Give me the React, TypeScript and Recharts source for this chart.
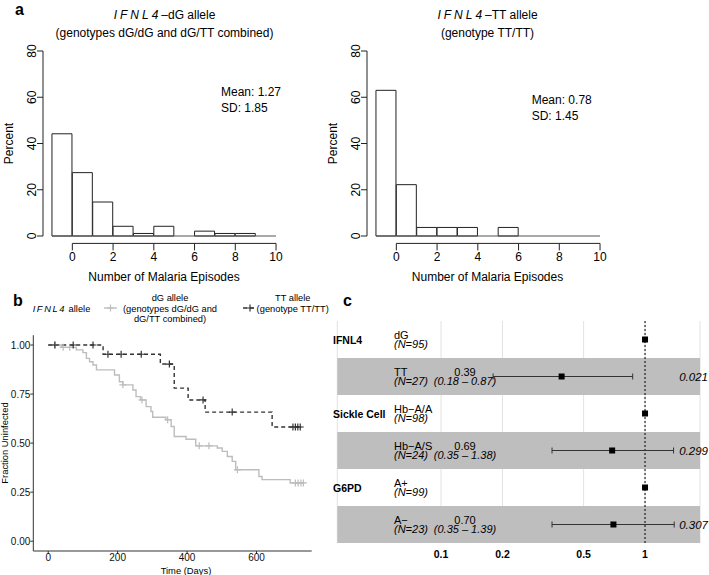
import React from "react";
import {
  Bar,
  CartesianGrid,
  ComposedChart,
  ErrorBar,
  Line,
  ReferenceArea,
  ReferenceLine,
  Scatter,
  XAxis,
  YAxis,
} from "recharts";

const FONT = '"Liberation Sans", Arial, Helvetica, sans-serif';

// ---- a: histograms of malaria episodes (percent of children per bin)
const EPISODE_BINS = [-1, 0, 1, 2, 3, 4, 5, 6, 7, 8, 9];
const DG_PERCENT = [44.2, 27.4, 14.7, 4.2, 1.1, 4.2, 0, 2.1, 1.1, 1.1, 0];
const TT_PERCENT = [63.0, 22.2, 3.7, 3.7, 3.7, 0, 3.7, 0, 0, 0, 0];
const HIST_X_TICKS = [0, 2, 4, 6, 8, 10];
const HIST_Y_TICKS = [0, 20, 40, 60, 80];
const HIST_X_DOMAIN = [-1.44, 10.44];
const HIST_Y_DOMAIN = [-3.2, 83.2];

// ---- b: Kaplan-Meier curves
const DG_TIME = [0, 38, 81, 100, 110, 119, 129, 139, 191, 205, 215, 244, 253, 266, 282, 296, 301, 339, 354, 363, 397, 425, 487, 501, 516, 530, 540, 607, 616, 697, 735];
const DG_SURV = [1, 0.988, 0.975, 0.961, 0.932, 0.915, 0.898, 0.873, 0.847, 0.813, 0.797, 0.771, 0.737, 0.72, 0.686, 0.661, 0.632, 0.619, 0.585, 0.534, 0.52, 0.486, 0.475, 0.458, 0.432, 0.407, 0.364, 0.33, 0.314, 0.297, 0.297];
const DG_CENSOR = [20, 43, 62, 215, 270, 344, 435, 463, 545, 712, 720, 728, 735];
const TT_TIME = [0, 158, 323, 363, 403, 452, 645, 730];
const TT_SURV = [1, 0.953, 0.903, 0.78, 0.72, 0.658, 0.582, 0.582];
const TT_CENSOR = [19, 72, 129, 172, 210, 268, 349, 446, 530, 705, 712, 719, 726];
const KM_X_TICKS = [0, 200, 400, 600];
const KM_Y_TICKS = [0, 0.25, 0.5, 0.75, 1];
const KM_X_DOMAIN = [-43, 759];
const KM_Y_DOMAIN = [-0.05, 1.05];

// ---- c: forest plot of hazard ratios
const FOREST_GROUP = ["IFNL4", "", "Sickle Cell", "", "G6PD", ""];
const FOREST_LEVEL = ["dG", "TT", "Hb\u2212A/A", "Hb\u2212A/S", "A+", "A\u2212"];
const FOREST_N = [95, 27, 98, 24, 99, 23];
const FOREST_HR = [1, 0.39, 1, 0.69, 1, 0.7];
const FOREST_LO = [null, 0.18, null, 0.35, null, 0.35];
const FOREST_HI = [null, 0.87, null, 1.38, null, 1.39];
const FOREST_P = ["", "0.021", "", "0.299", "", "0.307"];
const FOREST_TICKS = [0.1, 0.2, 0.5, 1];
const FOREST_X_DOMAIN = [0.031, 1.86];

const survAt = (times: number[], surv: number[], t: number) => {
  let v = surv[0];
  times.forEach((tt, i) => {
    if (tt <= t) v = surv[i];
  });
  return v;
};

function YTickRot({ x, y, payload }: any) {
  const bx = x - 1.5;
  return (
    <text x={bx} y={y} transform={`rotate(-90 ${bx} ${y})`} textAnchor="middle" fontSize={12} fill="#000" fontFamily={FONT}>
      {payload.value}
    </text>
  );
}

function Histogram({ percent, left }: { percent: number[]; left: number }) {
  const width = 300;
  const height = 290;
  const margin = { top: 43.6, right: 15, bottom: 16.6, left: 13 };
  const yAxisW = 30;
  const plotW = width - margin.left - margin.right - yAxisW;
  const pad = ((EPISODE_BINS[0] - HIST_X_DOMAIN[0]) / (HIST_X_DOMAIN[1] - HIST_X_DOMAIN[0])) * plotW;
  const data = EPISODE_BINS.map((b, i) => ({ bin: b, pct: percent[i] }));
  const lastEdge = EPISODE_BINS[EPISODE_BINS.length - 1] + 1;
  return (
    <div style={{ position: "absolute", left, top: 0 }}>
      <ComposedChart width={width} height={height} data={data} margin={margin} barCategoryGap={0} barGap={0}>
        <XAxis
          xAxisId="num"
          dataKey="bin"
          type="number"
          domain={HIST_X_DOMAIN}
          allowDataOverflow
          ticks={HIST_X_TICKS}
          interval={0}
          height={30}
          axisLine={false}
          tickSize={7}
          tickLine={{ stroke: "#222" }}
          tick={{ fontSize: 12, fill: "#000", fontFamily: FONT }}
        />
        <XAxis xAxisId="cat" dataKey="bin" type="category" hide height={0} padding={{ left: pad, right: pad }} />
        <YAxis
          type="number"
          domain={HIST_Y_DOMAIN}
          allowDataOverflow
          ticks={HIST_Y_TICKS}
          interval={0}
          width={yAxisW}
          axisLine={false}
          tickSize={6}
          tickMargin={0}
          tickLine={{ stroke: "#222" }}
          tick={<YTickRot />}
        />
        <Bar xAxisId="cat" dataKey="pct" fill="#fff" stroke="#222" strokeWidth={1} isAnimationActive={false} />
        <ReferenceLine
          xAxisId="num"
          segment={[{ x: EPISODE_BINS[0], y: 0 }, { x: lastEdge, y: 0 }]}
          stroke="#555"
          strokeWidth={1.2}
          ifOverflow="visible"
        />
        <ReferenceLine
          xAxisId="num"
          segment={[
            { x: HIST_X_TICKS[0], y: HIST_Y_DOMAIN[0] },
            { x: HIST_X_TICKS[HIST_X_TICKS.length - 1], y: HIST_Y_DOMAIN[0] },
          ]}
          stroke="#222"
          ifOverflow="visible"
        />
        <ReferenceLine
          xAxisId="num"
          segment={[
            { x: HIST_X_DOMAIN[0], y: HIST_Y_TICKS[0] },
            { x: HIST_X_DOMAIN[0], y: HIST_Y_TICKS[HIST_Y_TICKS.length - 1] },
          ]}
          stroke="#222"
          ifOverflow="visible"
        />
      </ComposedChart>
    </div>
  );
}

const plusShape = (color: string) => (p: any) => (
  <path
    d={`M${p.cx - 3.5},${p.cy}H${p.cx + 3.5}M${p.cx},${p.cy - 3.5}V${p.cy + 3.5}`}
    stroke={color}
    strokeWidth={1.2}
    fill="none"
  />
);

const DG_COLOR = "#BDBDBD";
const TT_COLOR = "#333333";

function KaplanMeier() {
  const dgLine = DG_TIME.map((t, i) => ({ t, s: DG_SURV[i] }));
  const ttLine = TT_TIME.map((t, i) => ({ t, s: TT_SURV[i] }));
  const dgCens = DG_CENSOR.map((t) => ({ t, s: survAt(DG_TIME, DG_SURV, t) }));
  const ttCens = TT_CENSOR.map((t) => ({ t, s: survAt(TT_TIME, TT_SURV, t) }));
  return (
    <div style={{ position: "absolute", left: 0, top: 325 }}>
      <ComposedChart width={330} height={250} margin={{ top: 10.2, right: 18.3, bottom: 4, left: 0.3 }}>
        <XAxis
          type="number"
          dataKey="t"
          domain={KM_X_DOMAIN}
          allowDataOverflow
          ticks={KM_X_TICKS}
          interval={0}
          height={20}
          tickSize={3}
          tickMargin={0}
          axisLine={{ stroke: "#333" }}
          tickLine={{ stroke: "#333" }}
          tick={{ fontSize: 10, fill: "#111", fontFamily: FONT }}
        />
        <YAxis
          type="number"
          domain={KM_Y_DOMAIN}
          allowDataOverflow
          ticks={KM_Y_TICKS}
          interval={0}
          width={33}
          tickSize={3}
          tickMargin={0}
          tickFormatter={(v: number) => v.toFixed(2)}
          axisLine={{ stroke: "#333" }}
          tickLine={{ stroke: "#333" }}
          tick={{ fontSize: 10, fill: "#111", fontFamily: FONT }}
        />
        <Line data={dgLine} dataKey="s" type="stepAfter" stroke={DG_COLOR} strokeWidth={1.4} dot={false} isAnimationActive={false} />
        <Line data={ttLine} dataKey="s" type="stepAfter" stroke={TT_COLOR} strokeWidth={1.4} strokeDasharray="4 3" dot={false} isAnimationActive={false} />
        <Scatter data={dgCens} dataKey="s" shape={plusShape(DG_COLOR)} isAnimationActive={false} />
        <Scatter data={ttCens} dataKey="s" shape={plusShape(TT_COLOR)} isAnimationActive={false} />
      </ComposedChart>
    </div>
  );
}

const squareShape = (p: any) => <rect x={p.cx - 3} y={p.cy - 3} width={6} height={6} fill="#000" />;

function Forest() {
  const rows = FOREST_HR.map((hr, i) => ({
    hr,
    row: i + 1,
    lo: FOREST_LO[i],
    hi: FOREST_HI[i],
  }));
  const refPts = rows.filter((r) => r.lo == null);
  const estPts = rows
    .filter((r) => r.lo != null)
    .map((r) => ({ ...r, err: [r.hr - (r.lo as number), (r.hi as number) - r.hr] }));
  return (
    <div style={{ position: "absolute", left: 330, top: 310 }}>
      <ComposedChart width={379} height={265} margin={{ top: 11, right: 9, bottom: 7, left: 7.3 }}>
        <CartesianGrid horizontal={false} stroke="#E2E2E2" />
        <XAxis
          type="number"
          dataKey="hr"
          scale="log"
          domain={FOREST_X_DOMAIN}
          allowDataOverflow
          ticks={FOREST_TICKS}
          interval={0}
          height={25}
          axisLine={false}
          tickLine={false}
          tickFormatter={(v: number) => String(v)}
          tick={{ fontSize: 10.5, fontWeight: "bold", fill: "#000", fontFamily: FONT }}
        />
        <YAxis type="number" dataKey="row" domain={[0.5, rows.length + 0.5]} reversed hide />
        {estPts.map((r) => (
          <ReferenceArea key={r.row} y1={r.row - 0.5} y2={r.row + 0.5} fill="#BEBEBE" fillOpacity={1} stroke="none" ifOverflow="visible" />
        ))}
        <ReferenceLine x={1} stroke="#000" strokeDasharray="2 2" />
        <Scatter data={refPts} shape={squareShape} isAnimationActive={false} />
        <Scatter data={estPts} shape={squareShape} isAnimationActive={false}>
          <ErrorBar dataKey="err" direction="x" width={3} stroke="#333" strokeWidth={1} />
        </Scatter>
      </ComposedChart>
    </div>
  );
}

function Overlay() {
  const rowTop = 321;
  const rowH = 37;
  return (
    <svg width={709} height={575} style={{ position: "absolute", left: 0, top: 0, pointerEvents: "none" }} fontFamily={FONT}>
      {/* a */}
      <text x={15} y={15} fontSize={16} fontWeight="bold">a</text>
      <text x={164.5} y={19.3} fontSize={12} textAnchor="middle">
        <tspan fontStyle="italic" letterSpacing={3}>IFNL4</tspan>–dG allele
      </text>
      <text x={164.5} y={36.6} fontSize={12} textAnchor="middle">(genotypes dG/dG and dG/TT combined)</text>
      <text x={487.5} y={19.3} fontSize={12} textAnchor="middle">
        <tspan fontStyle="italic" letterSpacing={3}>IFNL4</tspan>–TT allele
      </text>
      <text x={487.5} y={36.6} fontSize={12} textAnchor="middle">(genotype TT/TT)</text>
      <text x={221} y={96} fontSize={12}>Mean: 1.27</text>
      <text x={221} y={111.6} fontSize={12}>SD: 1.85</text>
      <text x={531.7} y={104.3} fontSize={12}>Mean: 0.78</text>
      <text x={531.7} y={120.3} fontSize={12}>SD: 1.45</text>
      <text x={13} y={143.5} fontSize={12} textAnchor="middle" transform="rotate(-90 13 143.5)">Percent</text>
      <text x={336.7} y={143.5} fontSize={12} textAnchor="middle" transform="rotate(-90 336.7 143.5)">Percent</text>
      <text x={164} y={280.5} fontSize={12} textAnchor="middle">Number of Malaria Episodes</text>
      <text x={487.5} y={280.5} fontSize={12} textAnchor="middle">Number of Malaria Episodes</text>

      {/* b */}
      <text x={13} y={305.5} fontSize={16} fontWeight="bold">b</text>
      <text x={32.7} y={311.5} fontSize={9.3}>
        <tspan fontStyle="italic" letterSpacing={1.6}>IFNL4</tspan> allele
      </text>
      <line x1={104} y1={308} x2={117} y2={308} stroke={DG_COLOR} strokeWidth={1.4} />
      <path d="M107,308H114M110.5,304.5V311.5" stroke={DG_COLOR} strokeWidth={1.2} />
      <text x={170} y={301.3} fontSize={9.3} textAnchor="middle">dG allele</text>
      <text x={170} y={311.6} fontSize={9.3} textAnchor="middle">(genotypes dG/dG and</text>
      <text x={170} y={321.6} fontSize={9.3} textAnchor="middle">dG/TT combined)</text>
      <line x1={243} y1={308} x2={257} y2={308} stroke={TT_COLOR} strokeWidth={1.4} strokeDasharray="4 3" />
      <path d="M246.5,308H253.5M250,304.5V311.5" stroke={TT_COLOR} strokeWidth={1.2} />
      <text x={292.7} y={301.3} fontSize={9.3} textAnchor="middle">TT allele</text>
      <text x={292.7} y={311.6} fontSize={9.3} textAnchor="middle">(genotype TT/TT)</text>
      <text x={8.3} y={443} fontSize={9.4} textAnchor="middle" transform="rotate(-90 8.3 443)">Fraction Uninfected</text>
      <text x={186} y={573.5} fontSize={9.4} textAnchor="middle">Time (Days)</text>

      {/* c */}
      <text x={343} y={305.5} fontSize={16} fontWeight="bold">c</text>
      {FOREST_LEVEL.map((lvl, i) => {
        const cy = rowTop + rowH * (i + 0.5);
        const lo = FOREST_LO[i];
        const hi = FOREST_HI[i];
        return (
          <g key={lvl}>
            {FOREST_GROUP[i] && (
              <text x={333} y={cy + 4} fontSize={10.5} fontWeight="bold">{FOREST_GROUP[i]}</text>
            )}
            <text x={394} y={cy - 1} fontSize={11}>{lvl}</text>
            <text x={394} y={cy + 8} fontSize={11} fontStyle="italic">(N={FOREST_N[i]})</text>
            {lo != null && hi != null && (
              <>
                <text x={465} y={cy - 1} fontSize={11} textAnchor="middle">{FOREST_HR[i].toFixed(2)}</text>
                <text x={465} y={cy + 8} fontSize={11} fontStyle="italic" textAnchor="middle">
                  ({lo.toFixed(2)} – {hi.toFixed(2)})
                </text>
              </>
            )}
            {FOREST_P[i] && (
              <text x={708} y={cy + 4} fontSize={11.5} fontStyle="italic" textAnchor="end">{FOREST_P[i]}</text>
            )}
          </g>
        );
      })}
    </svg>
  );
}

export default function App() {
  return (
    <div style={{ position: "absolute", left: 0, top: 0, width: 709, height: 575, background: "#fff", fontFamily: FONT }}>
      <Histogram percent={DG_PERCENT} left={0} />
      <Histogram percent={TT_PERCENT} left={323.7} />
      <KaplanMeier />
      <Forest />
      <Overlay />
    </div>
  );
}
